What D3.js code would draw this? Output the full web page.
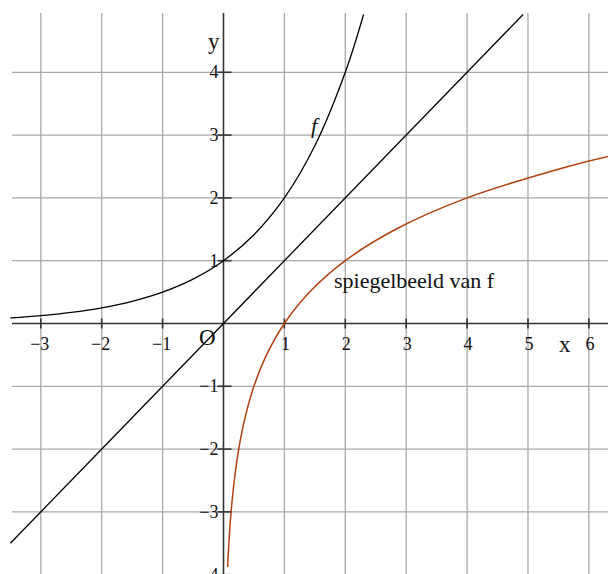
<!DOCTYPE html>
<html>
<head>
<meta charset="utf-8">
<script src="https://cdn.jsdelivr.net/npm/d3@7"></script>
<style>
  body { margin: 0; background: #fff; }
  text { font-family: "Liberation Serif", "Times New Roman", serif; fill: #111; }
</style>
</head>
<body>
<svg id="svg1"></svg>
<script>
let width = 608;
let height = 574;

// grid / tick values
let xTicks = [-3, -2, -1, 1, 2, 3, 4, 5, 6];
let yTicks = [-4, -3, -2, -1, 1, 2, 3, 4];
let xGrid = [-3, -2, -1, 0, 1, 2, 3, 4, 5, 6];
let yGrid = [-4, -3, -2, -1, 0, 1, 2, 3, 4];

// f(x) = 2^x
let fX = [-3.5, -3, -2.5, -2, -1.5, -1, -0.5, 0, 0.5, 1, 1.5, 2, 2.3];
let fY = [0.088, 0.125, 0.177, 0.25, 0.354, 0.5, 0.707, 1, 1.414, 2, 2.83, 4, 4.92];

// mirror image of f (reflection in y = x)
let gX = [0.068, 0.088, 0.125, 0.177, 0.25, 0.354, 0.5, 0.707, 1, 1.414, 2, 2.83, 4, 5.66, 6.32];
let gY = [-3.88, -3.5, -3, -2.5, -2, -1.5, -1, -0.5, 0, 0.5, 1, 1.5, 2, 2.5, 2.66];

// line y = x
let lineX = [-3.5, 4.92];
let lineY = [-3.5, 4.92];

let svg1 = d3.select('#svg1')
  .attr('width', width)
  .attr('height', height);

let xax = d3.scaleLinear()
  .domain([-3.473, 6.314])
  .range([12, 608]);

let yax = d3.scaleLinear()
  .domain([-3.997, 4.944])
  .range([574.5, 13]);

// grid
let grid = svg1.append('g')
  .attr('stroke', '#a8a8a8')
  .attr('stroke-width', 1.3);

grid.selectAll('.vg')
  .data(xGrid.filter(d => d !== 0))
  .join('line')
    .attr('x1', d => xax(d)).attr('x2', d => xax(d))
    .attr('y1', yax.range()[1]).attr('y2', height);

grid.selectAll('.hg')
  .data(yGrid.filter(d => d !== 0))
  .join('line')
    .attr('x1', xax.range()[0]).attr('x2', width)
    .attr('y1', d => yax(d)).attr('y2', d => yax(d));

// axes
let axes = svg1.append('g')
  .attr('stroke', '#333')
  .attr('stroke-width', 1.6);

axes.append('line')
  .attr('x1', xax.range()[0]).attr('x2', width)
  .attr('y1', yax(0)).attr('y2', yax(0));
axes.append('line')
  .attr('x1', xax(0)).attr('x2', xax(0))
  .attr('y1', yax.range()[1]).attr('y2', height);

axes.selectAll('.xt')
  .data(xTicks)
  .join('line')
    .attr('x1', d => xax(d)).attr('x2', d => xax(d))
    .attr('y1', yax(0) - 5).attr('y2', yax(0) + 5);

axes.selectAll('.yt')
  .data(yTicks)
  .join('line')
    .attr('x1', xax(0) - 6).attr('x2', xax(0) + 8)
    .attr('y1', d => yax(d)).attr('y2', d => yax(d));

let fmt = d => (d < 0 ? '\u2212' : '') + Math.abs(d);

svg1.append('g').selectAll('text')
  .data(xTicks)
  .join('text')
    .attr('x', d => xax(d) + (d < 0 ? -1 : 1))
    .attr('y', yax(0) + 27)
    .attr('text-anchor', 'middle')
    .attr('font-size', 18)
    .text(fmt);

svg1.append('g').selectAll('text')
  .data(yTicks)
  .join('text')
    .attr('x', xax(0) - 5)
    .attr('y', d => yax(d) + 6)
    .attr('text-anchor', 'end')
    .attr('font-size', 18)
    .text(fmt);

// curves
let pts = (xs, ys) => xs.map((x, i) => [x, ys[i]]);
let line = d3.line()
  .x(d => xax(d[0]))
  .y(d => yax(d[1]))
  .curve(d3.curveCatmullRom.alpha(0.5));

svg1.append('path')
  .attr('d', line(pts(lineX, lineY)))
  .attr('fill', 'none').attr('stroke', '#000').attr('stroke-width', 1.3);

svg1.append('path')
  .attr('d', line(pts(fX, fY)))
  .attr('fill', 'none').attr('stroke', '#000').attr('stroke-width', 1.3);

svg1.append('path')
  .attr('d', line(pts(gX, gY)))
  .attr('fill', 'none').attr('stroke', '#b3400f').attr('stroke-width', 1.5);

// labels
svg1.append('text').attr('x', 559).attr('y', 352).attr('font-size', 23).text('x');
svg1.append('text').attr('x', 208).attr('y', 49).attr('font-size', 23).text('y');
svg1.append('text').attr('x', 199).attr('y', 345).attr('font-size', 23).text('O');
svg1.append('text').attr('x', 311).attr('y', 133).attr('font-size', 22)
  .attr('font-style', 'italic').text('f');
svg1.append('text').attr('x', 334).attr('y', 288).attr('font-size', 22)
  .text('spiegelbeeld van f');
</script>
</body>
</html>
